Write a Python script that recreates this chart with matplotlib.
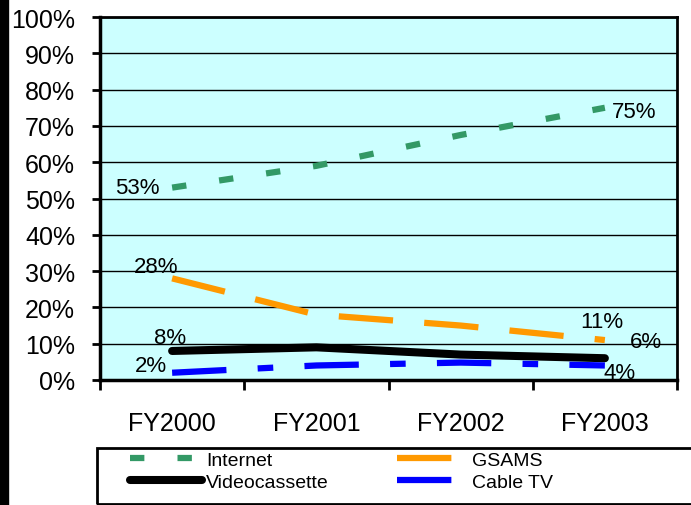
import matplotlib.pyplot as plt
from matplotlib.patches import Rectangle

# chart values
years = ["FY2000", "FY2001", "FY2002", "FY2003"]
internet = [53, 59, 67.5, 75]
gsams = [28, 18, 15, 11]
video = [8, 9, 7, 6]
cable = [2, 4, 4.8, 4]
yticks = list(range(0, 101, 10))

plt.rcParams['font.family'] = ['Liberation Sans', 'DejaVu Sans']

fig = plt.figure(figsize=(6.91, 5.06), dpi=100)
fig.patches.append(Rectangle((0, 0), 8 / 691, 1, transform=fig.transFigure,
                             color="black", zorder=0))
ax = fig.add_axes([100 / 691, 1 - 381 / 506, 577 / 691, 363 / 506])
ax.set_facecolor("#CCFFFF")

x = list(range(len(years)))
ax.plot(x, internet, color="#339966", lw=4.5, dashes=(2.3, 5.3), label="Internet",
        dash_capstyle="butt")
ax.plot(x, gsams, color="#FF9900", lw=4.5, dashes=(8.7, 5), label="GSAMS",
        dash_capstyle="butt")
ax.plot(x, video, color="black", lw=5.8, label="Videocassette",
        solid_capstyle="round")
ax.plot(x, cable, color="#0000FF", lw=4.5, dashes=(8.7, 5, 2.5, 5), label="Cable TV",
        dash_capstyle="butt")

fs = 18
ax.set_ylim(0, 100)
ax.set_xlim(-0.5, 3.5)
ax.set_yticks(yticks)
ax.set_yticklabels([f"{v}%" for v in yticks], fontsize=fs)
ax.set_xticks([i + 0.5 for i in range(-1, 4)])
ax.set_xticklabels([])
ax.set_xticks(x, minor=True)
ax.set_xticklabels(years, minor=True, fontsize=fs)
ax.tick_params(axis="x", which="minor", length=0, pad=22)
ax.tick_params(axis="x", which="major", length=7, width=2, direction="out")
ax.tick_params(axis="y", length=6, width=2, direction="out", pad=12)
ax.yaxis.grid(True, color="black", lw=1)
ax.set_axisbelow(True)
for s in ["left", "bottom"]:
    ax.spines[s].set_linewidth(2.5)
for s in ["top", "right"]:
    ax.spines[s].set_linewidth(2)

# data labels: (series, index, dx, dy, ha)
lfs = 16
labels = [
    (internet, 0, -9, 0, "right"),
    (internet, 3, 5, -3, "left"),
    (gsams, 0, -11.5, 8.6, "center"),
    (gsams, 3, -2, 13.7, "center"),
    (video, 0, -1.5, 9.4, "center"),
    (video, 3, 18, 12, "left"),
    (cable, 0, -3.6, 5, "right"),
    (cable, 3, -1, -4.7, "left"),
]
for series, i, dx, dy, ha in labels:
    ax.annotate(f"{series[i]:.0f}%", (i, series[i]), xytext=(dx, dy),
                textcoords="offset points", fontsize=lfs, ha=ha, va="center")

# legend box (right edge runs off the picture)
fig.patches.append(Rectangle((97 / 691, 1 / 506), 700 / 691, 56 / 506,
                             transform=fig.transFigure, fill=False,
                             edgecolor="black", lw=2))
h, l = ax.get_legend_handles_labels()
order = [0, 2, 1, 3]
leg = fig.legend([h[i] for i in order], [l[i] for i in order],
                 loc="upper left", bbox_to_anchor=(130 / 691, 1 - 452 / 506),
                 ncol=2, fontsize=14, handlelength=3.7, handletextpad=0.2,
                 columnspacing=3.5, labelspacing=0.25, frameon=False,
                 borderpad=0, borderaxespad=0)

fig.savefig("out.png", dpi=100)
